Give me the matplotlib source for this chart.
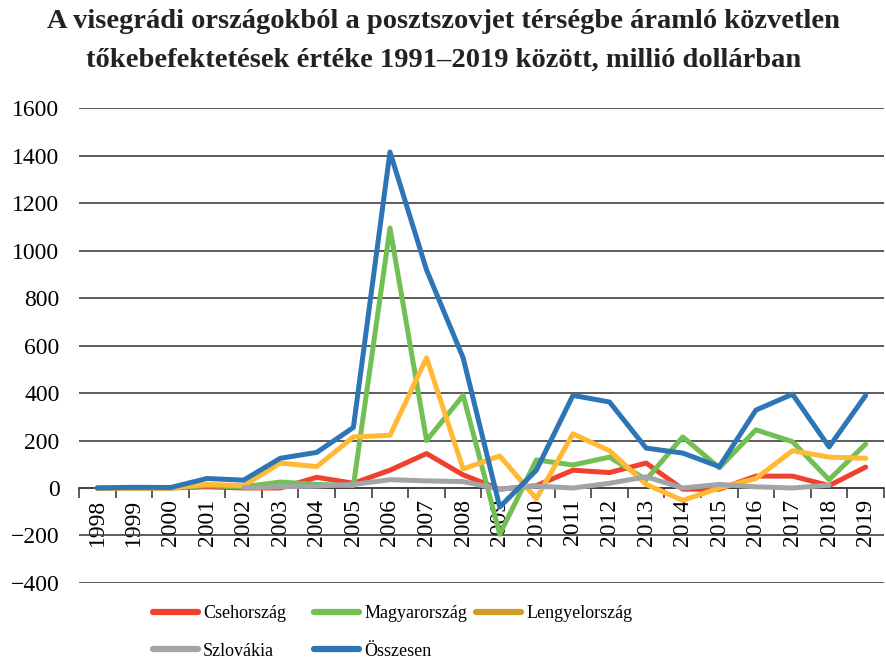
import numpy as np
import matplotlib.pyplot as plt
from matplotlib.lines import Line2D

plt.rcParams["font.family"] = ["Liberation Serif", "DejaVu Serif"]

years = [str(y) for y in range(1998, 2020)]

cseh = [0, 0, 0, 5, 0, 0, 45, 20, 75, 145, 55, -5, 10, 75, 65, 105, -5, -5, 50, 50, 10, 88]
magyar = [0, 0, 0, 10, 5, 25, 15, 10, 1095, 200, 390, -195, 118, 97, 130, 35, 215, 85, 245, 195, 35, 185]
lengyel = [0, 0, 0, 15, 10, 105, 90, 215, 222, 548, 80, 135, -45, 228, 157, 15, -52, 0, 40, 157, 130, 125]
szlovak = [None, None, None, None, 0, 5, 8, 15, 35, 30, 27, -5, 8, 0, 20, 47, 0, 15, 5, 0, 12, None]
osszes = [0, 3, 2, 40, 33, 125, 150, 255, 1415, 918, 548, -80, 75, 390, 362, 168, 147, 90, 328, 395, 173, 390]

series = [
    ("Csehország", cseh, "#F0412F", "#F0412F"),
    ("Magyarország", magyar, "#72BF53", "#72BF53"),
    ("Lengyelország", lengyel, "#FFB935", "#D39B2A"),
    ("Szlovákia", szlovak, "#A2A5A8", "#A2A5A8"),
    ("Összesen", osszes, "#2E75B6", "#2E75B6"),
]

fig = plt.figure(figsize=(8.87, 6.63), dpi=100)
ax = fig.add_axes([0.089, 0.1207, 0.9076, 0.7163])

x = np.arange(len(years))
for name, vals, col, _ in series:
    v = np.array([np.nan if a is None else a for a in vals], dtype=float)
    ax.plot(x, v, color=col, lw=3.6, solid_joinstyle="round", solid_capstyle="round", zorder=3)

ax.set_xlim(-0.5, len(years) - 0.5)
ax.set_ylim(-400, 1600)
ax.set_yticks(np.arange(-400, 1601, 200))
ax.yaxis.grid(True, color="#404040", lw=1.2)
ax.set_axisbelow(True)
ax.tick_params(axis="y", length=0, pad=14, labelsize=17)

for s in ["left", "right", "top"]:
    ax.spines[s].set_visible(False)
ax.spines["bottom"].set_position(("data", 0))
ax.spines["bottom"].set_color("#404040")
ax.spines["bottom"].set_linewidth(1.2)

ax.set_xticks(x)
ax.set_xticklabels(years, rotation=90, fontsize=17)
ax.tick_params(axis="x", which="major", length=0, pad=8)
ax.set_xticks(np.arange(-0.5, len(years), 1), minor=True)
ax.tick_params(axis="x", which="minor", length=7, width=1.2, color="#404040", direction="out")

fig.text(0.5, 0.967, "A visegrádi országokból a posztszovjet térségbe áramló közvetlen",
         ha="center", va="center", fontsize=20.5, fontweight="bold", color="#222222")
fig.text(0.5, 0.909, "tőkebefektetések értéke 1991–2019 között, millió dollárban",
         ha="center", va="center", fontsize=20.5, fontweight="bold", color="#222222")

# legend: three columns placed separately
cols = [(0, 3), (1, 4), (2,)]
xs = [157, 318, 480]
for idx, xp in zip(cols, xs):
    handles = [Line2D([], [], color=series[i][3], lw=4.5, solid_capstyle="round") for i in idx]
    labels = [series[i][0] for i in idx]
    fig.legend(handles, labels, loc="upper left", bbox_to_anchor=(xp / 887 - 0.004, 1 - 605 / 663),
               frameon=False, fontsize=13, handlelength=2.45, handletextpad=0.3,
               labelspacing=1.15, borderaxespad=0, borderpad=0)

fig.savefig("out.png", dpi=100, facecolor="white")
